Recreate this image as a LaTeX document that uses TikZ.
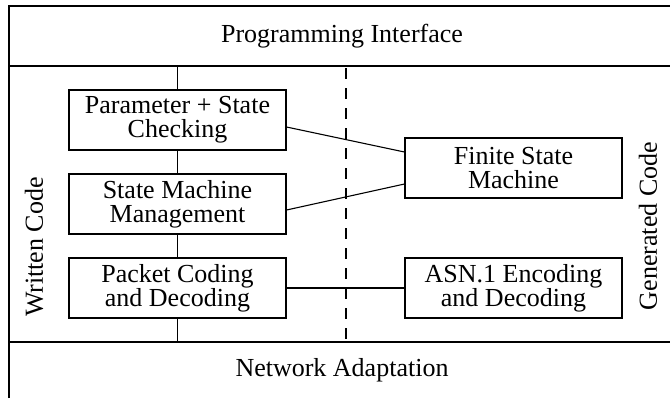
\documentclass[tikz,border=0pt]{standalone}
\usepackage{fontspec}
\setmainfont{Liberation Serif}
\tikzset{
  frame/.style={line width=2bp},
  codebox/.style={draw, line width=1.1bp, minimum width=217bp, minimum height=60bp,
    inner sep=0pt, align=center, font=\fontsize{26bp}{24bp}\selectfont},
  link/.style={line width=1.1bp},
  label/.style={font=\fontsize{26bp}{24bp}\selectfont, inner sep=0pt},
}
\begin{document}
\begin{tikzpicture}[x=1bp, y=-1bp]
  \useasboundingbox (0,0) rectangle (670,398);
  % outer frame and layer separators
  \draw[frame] (9,398) -- (9,6) -- (670,6);
  \draw[frame] (9,66) -- (670,66);
  \draw[frame] (9,342) -- (670,342);
  \node[label] (api) at (342,36) {Programming Interface};
  \node[label] (net) at (342,370) {Network Adaptation};
  % hand-written modules
  \node[codebox] (check) at (177.5,120) {Parameter + State\\Checking};
  \node[codebox] (smm) at (177.5,204) {State Machine\\Management};
  \node[codebox] (pkt) at (177.5,288) {Packet Coding\\and Decoding};
  % generated modules
  \node[codebox] (fsm) at (513.5,168) {Finite State\\Machine};
  \node[codebox] (asn) at (513.5,288) {ASN.1 Encoding\\and Decoding};
  % side labels
  \node[label, rotate=90] (written) at (34,247) {Written Code};
  \node[label, rotate=90] (generated) at (648,226) {Generated Code};
  % vertical chain of written modules
  \coordinate (chaintop) at (177.5,66);
  \coordinate (chainbot) at (177.5,342);
  \draw[link] (chaintop) -- (check.north);
  \draw[link] (check.south) -- (smm.north);
  \draw[link] (smm.south) -- (pkt.north);
  \draw[link] (pkt.south) -- (chainbot);
  % divider between written and generated code
  \coordinate (divtop) at (346,66);
  \coordinate (divbot) at (346,342);
  \draw[link, dash pattern=on 11bp off 9bp, dash phase=-2bp] (divtop) -- (divbot);
  % links to generated modules
  \draw[link] ([yshift=-7bp]check.east) -- ([yshift=16bp]fsm.west);
  \draw[link] ([yshift=-6bp]smm.east) -- ([yshift=-16bp]fsm.west);
  \draw[link] (pkt.east) -- (asn.west);
\end{tikzpicture}
\end{document}
